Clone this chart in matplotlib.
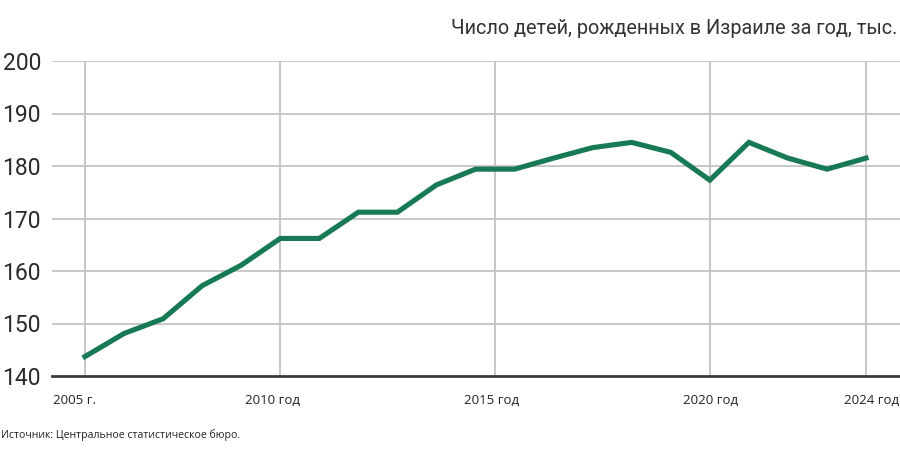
import matplotlib
matplotlib.use("Agg")
import matplotlib.pyplot as plt
from matplotlib.ticker import FixedLocator

# ---- data ----
births = [143.7, 148.1, 150.9, 157.2, 161.1, 166.2, 166.2, 171.2, 171.2, 176.4,
          179.4, 179.4, 181.5, 183.5, 184.5, 182.6, 177.3, 184.5, 181.5, 179.4, 181.5]
x_idx = list(range(len(births)))
grid_pos = [0, 5, 10.5, 16, 20]
label_pos = [-0.28, 4.81, 10.42, 16.03, 20.15]
x_labels = ["2005 г.", "2010 год", "2015 год", "2020 год", "2024 год"]
y_ticks = [140, 150, 160, 170, 180, 190, 200]
title = "Число детей, рожденных в Израиле за год, тыс."
source = "Источник: Центральное статистическое бюро."

W, H = 900, 449
fig = plt.figure(figsize=(W / 100, H / 100), dpi=100)
left, right, top_px, bot_px = 52, 900, 61, 376
ax = fig.add_axes([left / W, (H - bot_px) / H, (right - left) / W, (bot_px - top_px) / H])

grid_c = "#c4c4c4"
ax.plot(x_idx, births, color="#177a54", lw=3.7, solid_joinstyle="miter", zorder=3)

ax.set_xlim(-0.845, 20.87)
ax.set_ylim(140, 200)

for y in y_ticks[1:]:
    ax.axhline(y, color=grid_c, lw=1.3, zorder=1)
for gx in grid_pos:
    ax.axvline(gx, color=grid_c, lw=1.3, zorder=1)
ax.axhline(140, color="#3a3a3a", lw=2.0, zorder=2, clip_on=False)

for s in ax.spines.values():
    s.set_visible(False)

ax.set_yticks(y_ticks)
ax.set_yticklabels([str(v) for v in y_ticks])
ax.tick_params(axis="y", length=0, pad=8, labelsize=16.5, labelcolor="#2a2a2a")
for t in ax.get_yticklabels():
    t.set_family(["Roboto", "DejaVu Sans"])

ax.xaxis.set_major_locator(FixedLocator(label_pos))
ax.set_xticklabels(x_labels)
ax.tick_params(axis="x", length=0, pad=13, labelsize=9.5, labelcolor="#222222")
for t in ax.get_xticklabels():
    t.set_family(["Open Sans", "DejaVu Sans"])

fig.text(897 / W, 1 - 28 / H, title, ha="right", va="center", fontsize=14.3,
         color="#333333", family=["Roboto", "DejaVu Sans"])
fig.text(1 / W, 1 - 435 / H, source, ha="left", va="center", fontsize=7.6,
         color="#222222", family=["Open Sans", "DejaVu Sans"])

fig.savefig("out.png", dpi=100, facecolor="white")
